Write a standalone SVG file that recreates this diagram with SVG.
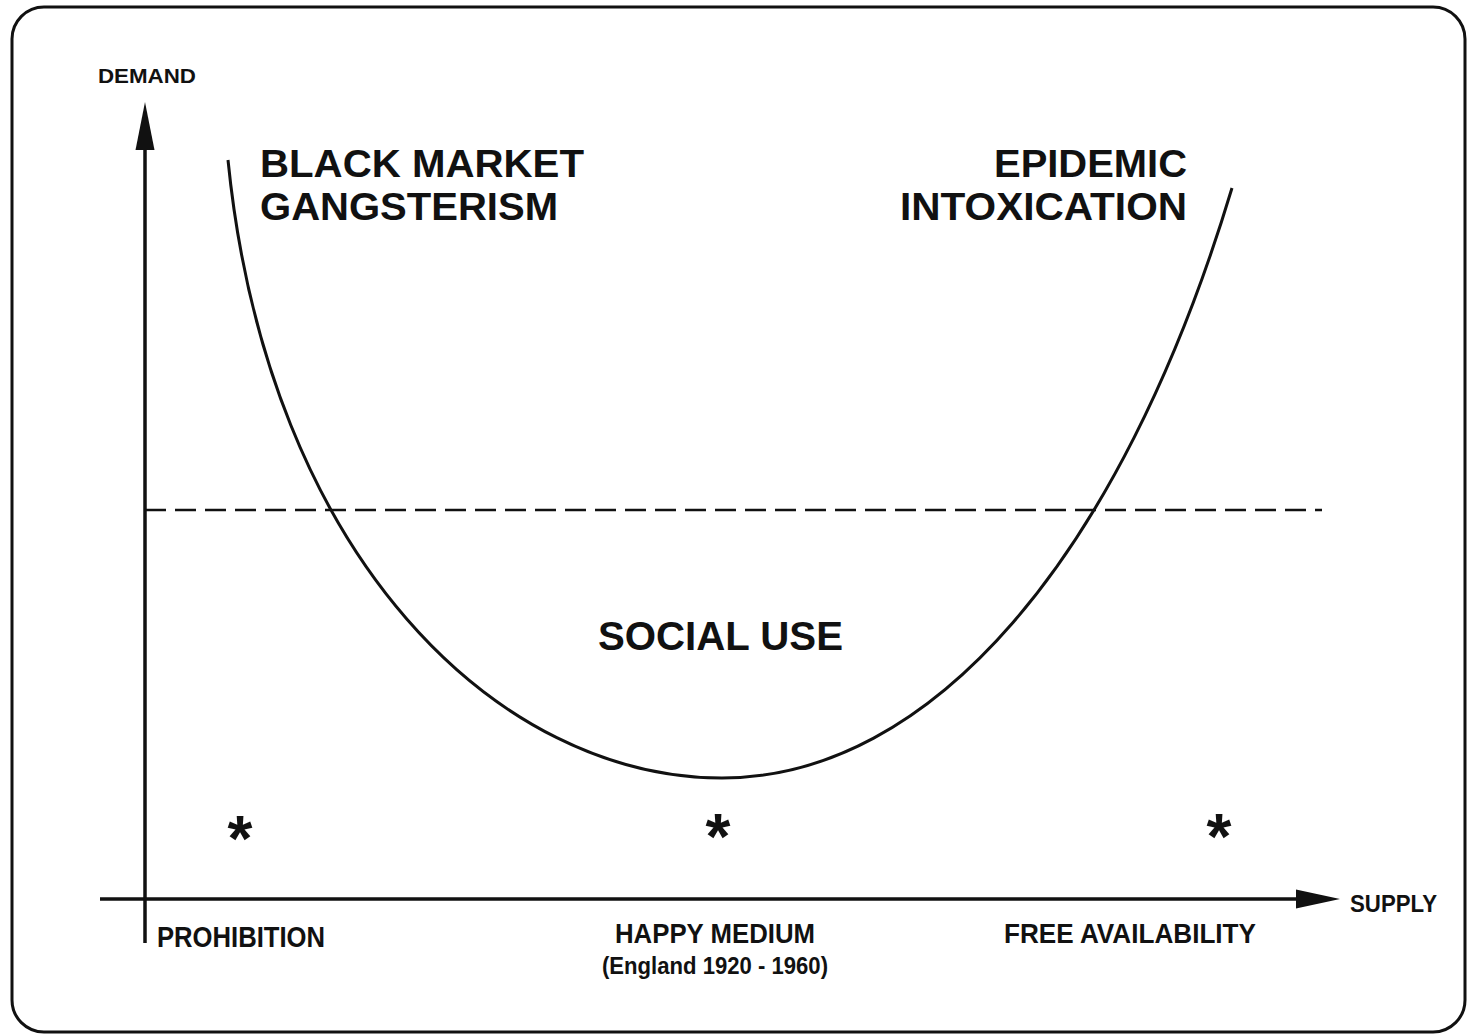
<svg xmlns="http://www.w3.org/2000/svg" width="1468" height="1035" viewBox="0 0 1468 1035">
<style>
.t{font-family:"Liberation Sans",Arial,sans-serif;font-weight:bold;fill:#111}
.ax{stroke:#111;stroke-width:3.5;fill:none}
.cv{stroke:#111;stroke-width:3;fill:none}
</style>
<rect x="0" y="0" width="1468" height="1035" fill="#fff"/>
<rect id="frame" x="12" y="7" width="1453" height="1025" rx="32" fill="none" stroke="#111" stroke-width="3"/>
<g id="connectors">
<line class="ax" x1="145" y1="145" x2="145" y2="943"/>
<polygon points="145,102 135.5,150 154.5,150" fill="#111"/>
<line class="ax" x1="100" y1="899" x2="1300" y2="899"/>
<polygon points="1340,899 1296,889.5 1296,908.5" fill="#111"/>
<line x1="145" y1="510" x2="1322" y2="510" stroke="#111" stroke-width="2.5" stroke-dasharray="21,9"/>
<path class="cv" d="M228,160 C268,560 500,778 722,778 C930,778 1120,560 1232,188"/>
</g>
<g id="demand"><text class="t" x="98" y="83" font-size="21" textLength="98" lengthAdjust="spacingAndGlyphs">DEMAND</text></g>
<g id="black-market">
<text class="t" x="260" y="177" font-size="39" textLength="324" lengthAdjust="spacingAndGlyphs">BLACK MARKET</text>
<text class="t" x="260" y="220" font-size="39" textLength="298" lengthAdjust="spacingAndGlyphs">GANGSTERISM</text>
</g>
<g id="epidemic">
<text class="t" x="994" y="177" font-size="39" textLength="193" lengthAdjust="spacingAndGlyphs">EPIDEMIC</text>
<text class="t" x="900" y="220" font-size="39" textLength="287" lengthAdjust="spacingAndGlyphs">INTOXICATION</text>
</g>
<g id="social-use"><text class="t" x="598" y="650" font-size="41" textLength="245" lengthAdjust="spacingAndGlyphs">SOCIAL USE</text></g>
<g id="stars" font-family="Liberation Sans,Arial,sans-serif" font-weight="bold" font-size="64" fill="#111" text-anchor="middle">
<text x="240" y="861">*</text>
<text x="718" y="859">*</text>
<text x="1219" y="859">*</text>
</g>
<g id="prohibition"><text class="t" x="157" y="947" font-size="29" textLength="168" lengthAdjust="spacingAndGlyphs">PROHIBITION</text></g>
<g id="happy-medium">
<text class="t" x="615" y="943" font-size="28" textLength="200" lengthAdjust="spacingAndGlyphs">HAPPY MEDIUM</text>
<text class="t" x="602" y="974" font-size="23" textLength="226" lengthAdjust="spacingAndGlyphs">(England 1920 - 1960)</text>
</g>
<g id="free-availability"><text class="t" x="1004" y="943" font-size="28" textLength="252" lengthAdjust="spacingAndGlyphs">FREE AVAILABILITY</text></g>
<g id="supply"><text class="t" x="1350" y="912" font-size="24" textLength="87" lengthAdjust="spacingAndGlyphs">SUPPLY</text></g>
</svg>
